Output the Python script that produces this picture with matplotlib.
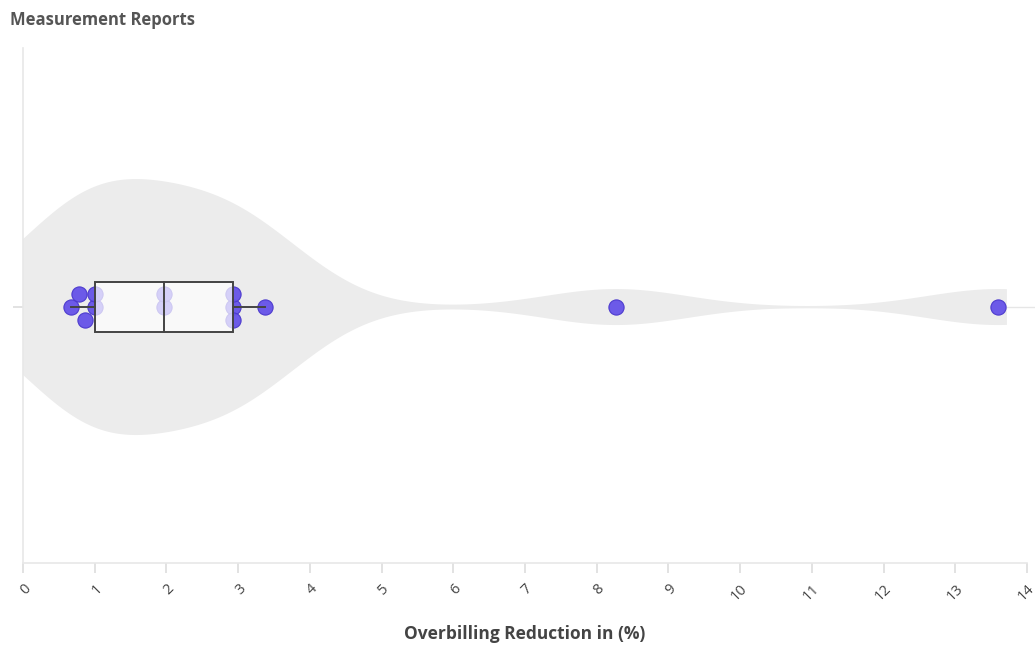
import numpy as np
import matplotlib.pyplot as plt
from matplotlib.patches import Rectangle

# values (Overbilling Reduction in %)
values = [0.67, 0.78, 0.86, 1.0, 1.0, 1.97, 1.97, 2.93, 2.93, 2.93, 3.37, 8.27, 13.6]
x_ticks = list(range(0, 15))
title = 'Measurement Reports'
x_title = 'Overbilling Reduction in (%)'

plt.rcParams['font.family'] = ['Open Sans', 'DejaVu Sans']

vals = np.array(sorted(values))

fig = plt.figure(figsize=(10.35, 6.48), dpi=100)
ax = fig.add_axes([23 / 1035, 85 / 648, 1004 / 1035, 515 / 648])
ax.set_xlim(0, 14)
ax.set_ylim(-1, 1.012)

# violin (gaussian kde, bandwidth ~1), clipped at the axis
bw = 1.0
grid = np.linspace(vals.min() - 3, vals.max() + 0.12, 600)
dens = np.exp(-0.5 * ((grid[:, None] - vals[None, :]) / bw) ** 2).sum(axis=1)
half = dens / dens.max() * 0.5
ax.fill_between(grid, -half, half, color='#ececec', lw=0, zorder=1)

# center gridline
ax.axhline(0, xmax=1.008, color='#e6e6e6', lw=1, zorder=0.5, clip_on=False)

# simple swarm: slots center / up / down
step = 0.05
slots = [0, 1, -1, 2, -2]
placed = []
for v in vals:
    for s in slots:
        if all(not (ps == s and abs(pv - v) < 0.2) for pv, ps in placed):
            placed.append((v, s))
            break
px = np.array([p[0] for p in placed])
py = np.array([p[1] * step for p in placed])
ax.scatter(px, py, s=120, color='#6552e8', edgecolor='#4a38cc', linewidth=0.8,
           alpha=0.95, zorder=3)

# box plot
q1, med, q3 = np.percentile(vals, [25, 50, 75])
iqr = q3 - q1
lo = vals[vals >= q1 - 1.5 * iqr].min()
hi = vals[vals <= q3 + 1.5 * iqr].max()
bh = 0.097
ax.add_patch(Rectangle((q1, -bh), q3 - q1, 2 * bh, facecolor='white', alpha=0.72,
                       edgecolor='none', zorder=4))
ax.add_patch(Rectangle((q1, -bh), q3 - q1, 2 * bh, facecolor='none',
                       edgecolor='#444444', lw=1.4, zorder=5))
ax.plot([med, med], [-bh, bh], color='#444444', lw=1.4, zorder=5)
ax.plot([lo, q1], [0, 0], color='#444444', lw=1.4, zorder=5)
ax.plot([q3, hi], [0, 0], color='#444444', lw=1.4, zorder=5)

# axes styling
for side in ['top', 'right']:
    ax.spines[side].set_visible(False)
for side in ['left', 'bottom']:
    ax.spines[side].set_color('#e8e8e8')
    ax.spines[side].set_linewidth(1.2)
ax.set_yticks([0])
ax.set_yticklabels([''])
ax.set_xticks(x_ticks)
ax.set_xticklabels([str(t) for t in x_ticks], rotation=45, ha='right',
                   rotation_mode='anchor', fontsize=10.5, color='#444444')
ax.tick_params(axis='both', length=7, color='#dddddd', width=1.2, pad=6)

ax.set_xlabel(x_title, fontsize=12.5, fontweight='bold', color='#444444')
ax.xaxis.set_label_coords(0.5, -0.138)
ax.xaxis.label.set_va('center')

fig.text(10 / 1035, 1 - 20 / 648, title, fontsize=12, fontweight='bold',
         color='#555555', va='center', ha='left')

fig.savefig('out.png', dpi=100)
